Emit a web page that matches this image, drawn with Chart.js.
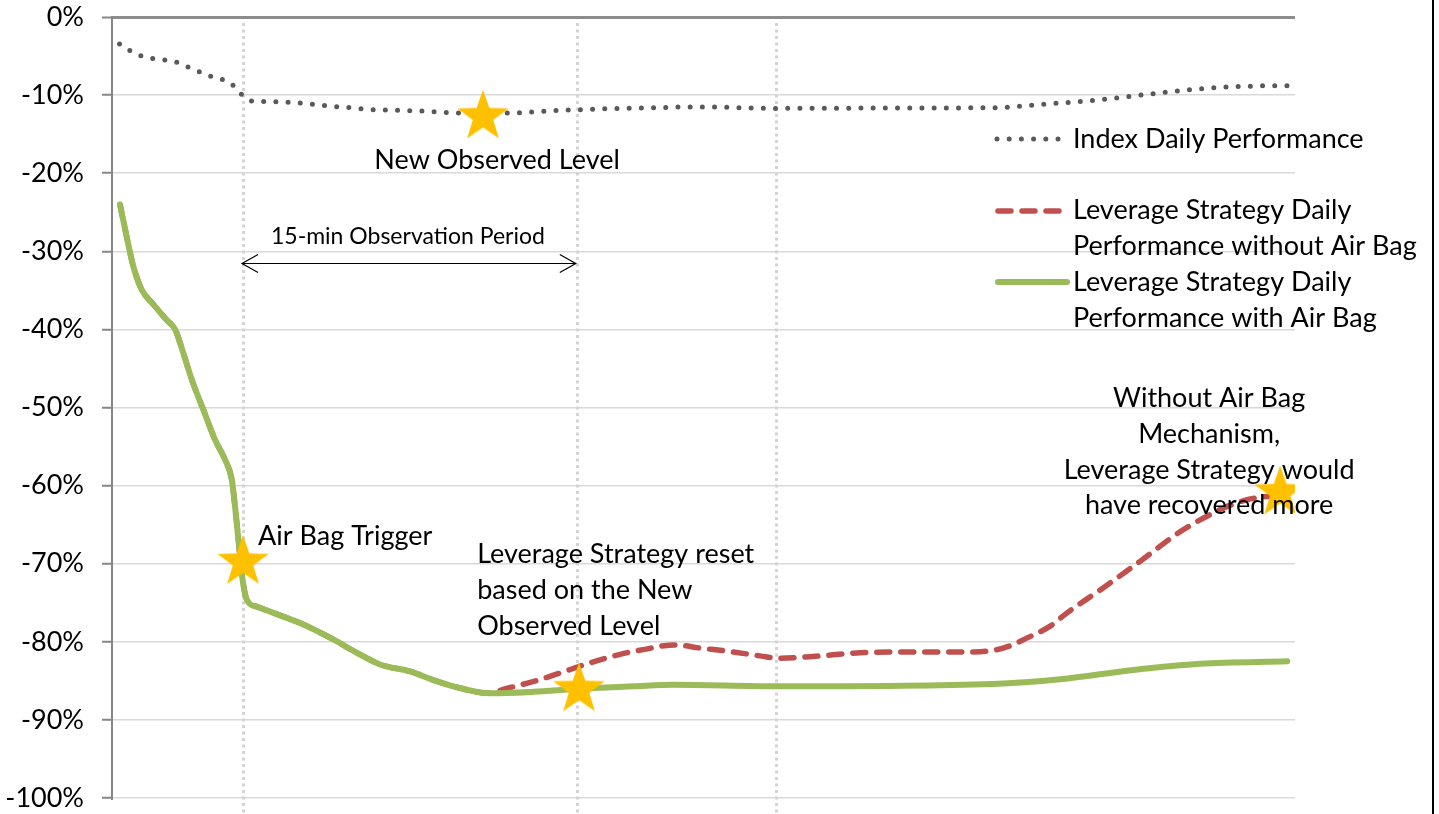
<!DOCTYPE html>
<html>
<head>
<meta charset="utf-8">
<title>Air Bag Mechanism</title>
<script src="https://cdn.jsdelivr.net/npm/chart.js@4.4.1/dist/chart.umd.min.js"></script>
<style>
  html, body { margin: 0; padding: 0; background: #fff; }
  #wrap { position: relative; width: 1439px; height: 814px; }
</style>
</head>
<body>
<div id="wrap"><canvas id="airbagChart" width="1439" height="814"></canvas></div>
<script>
// minutes since the start of the window
const indexT = [0.34, 0.81, 1.29, 1.86, 2.42, 2.94, 3.46, 3.98, 4.49, 5.01, 5.49, 5.87, 6.34, 6.88, 8.55, 9.65, 10.75, 11.84, 12.96, 14.07, 15.16, 15.73, 16.76, 17.95, 19.06, 20.18, 21.27, 22.39, 23.52, 24.64, 25.71, 26.80, 30.00, 35.61, 40.04, 41.79, 43.45, 45.10, 46.75, 48.41, 50.09, 51.75, 53.10];
const indexPerf = [-3.46, -4.31, -4.96, -5.34, -5.51, -5.81, -6.45, -7.04, -7.61, -8.03, -8.80, -9.95, -10.76, -10.81, -11.01, -11.36, -11.61, -11.87, -11.96, -12.05, -12.22, -12.29, -12.35, -12.29, -12.16, -11.96, -11.87, -11.74, -11.69, -11.61, -11.52, -11.52, -11.70, -11.65, -11.60, -11.23, -10.88, -10.46, -9.91, -9.40, -9.01, -8.83, -8.80];

const airbagT = [0.36, 0.66, 0.96, 1.34, 1.87, 2.47, 2.85, 3.22, 3.60, 4.13, 4.65, 5.11, 5.41, 5.56, 5.71, 5.86, 6.09, 6.54, 7.29, 8.50, 10.00, 11.06, 12.11, 13.47, 14.52, 15.42, 17.08, 19.04, 21.10, 23.56, 25.36, 30.00, 39.81, 42.84, 46.14, 49.16, 53.10];
const airbagPerf = [-24.0, -28.1, -31.9, -34.9, -36.8, -38.8, -40.0, -43.0, -46.4, -50.3, -54.1, -56.7, -59.2, -62.7, -66.9, -71.2, -74.6, -75.5, -76.3, -77.6, -79.7, -81.4, -82.9, -83.8, -84.9, -85.7, -86.6, -86.4, -86.0, -85.7, -85.5, -85.7, -85.4, -84.8, -83.6, -82.8, -82.5];

const noAirbagT = [0.36, 0.66, 0.96, 1.34, 1.87, 2.47, 2.85, 3.22, 3.60, 4.13, 4.65, 5.11, 5.41, 5.56, 5.71, 5.86, 6.09, 6.54, 7.29, 8.50, 10.00, 11.06, 12.11, 13.47, 14.52, 15.42, 17.08, 17.67, 19.02, 20.24, 21.15, 22.96, 23.99, 25.44, 26.57, 27.79, 29.28, 30.05, 31.54, 33.80, 35.29, 38.64, 39.81, 40.58, 41.35, 42.39, 43.15, 44.78, 46.45, 48.26, 49.16, 50.20, 51.29, 52.19, 53.10];
const noAirbagPerf = [-24.0, -28.1, -31.9, -34.9, -36.8, -38.8, -40.0, -43.0, -46.4, -50.3, -54.1, -56.7, -59.2, -62.7, -66.9, -71.2, -74.6, -75.5, -76.3, -77.6, -79.7, -81.4, -82.9, -83.8, -84.9, -85.7, -86.6, -86.1, -85.1, -84.0, -83.1, -81.6, -81.0, -80.4, -80.8, -81.2, -81.8, -82.1, -81.9, -81.4, -81.3, -81.3, -81.1, -80.5, -79.5, -78.0, -76.3, -73.1, -69.7, -65.9, -64.4, -62.9, -61.8, -61.4, -61.0];

// the stars
const starT = [5.92, 16.76, 21.10, 52.78];
const starPerf = [-69.8, -12.76, -86.1, -60.9];

// dotted vertical markers (trigger, end of observation, ...)
const markerT = [5.92, 21.0, 30.0];

const yTicks = [0, -10, -20, -30, -40, -50, -60, -70, -80, -90, -100];

const seriesNames = ['Index Daily Performance', 'Leverage Strategy Daily|Performance without Air Bag', 'Leverage Strategy Daily|Performance with Air Bag'];

const FONT = '"Lato", "Noto Sans", sans-serif';

function toPoints(xs, ys) {
  return xs.map((x, i) => ({ x: x, y: ys[i] }));
}

// étoile dorée en image pour pointStyle
function makeStar(r) {
  const c = document.createElement('canvas');
  const s = Math.ceil(r * 2 + 2);
  c.width = s; c.height = s;
  const g = c.getContext('2d');
  g.fillStyle = '#ffc000';
  g.beginPath();
  for (let i = 0; i < 10; i++) {
    const rad = i % 2 === 0 ? r : r * 0.4;
    const a = -Math.PI / 2 + i * Math.PI / 5;
    g.lineTo(s / 2 + rad * Math.cos(a), s / 2 + rad * Math.sin(a));
  }
  g.closePath();
  g.fill();
  return c;
}

// markers behind the lines
const markerPlugin = {
  id: 'markers',
  beforeDatasetsDraw(chart) {
    const ctx = chart.ctx;
    const xs = chart.scales.x;
    ctx.save();
    ctx.strokeStyle = '#d4d4d4';
    ctx.lineWidth = 3;
    ctx.setLineDash([3, 3.5]);
    markerT.forEach(t => {
      const px = Math.round(xs.getPixelForValue(t)) + 0.5;
      ctx.beginPath();
      ctx.moveTo(px, chart.chartArea.top + 6);
      ctx.lineTo(px, chart.height);
      ctx.stroke();
    });
    ctx.restore();
  }
};

function textAt(ctx, txt, x, y, align) {
  ctx.textAlign = align || 'left';
  ctx.fillText(txt, x, y);
}

// legend + annotations
const overlayPlugin = {
  id: 'overlay',
  afterDraw(chart) {
    const ctx = chart.ctx;
    const xs = chart.scales.x;
    const ys = chart.scales.y;
    const X = v => xs.getPixelForValue(v);
    const Y = v => ys.getPixelForValue(v);
    ctx.save();
    ctx.fillStyle = '#000';
    ctx.textBaseline = 'alphabetic';

    // legend
    const lx0 = 995, lx1 = 1062, tx = 1073;
    const ds = chart.data.datasets;
    const rows = [
      { d: ds[3], y: 139, lines: seriesNames[0].split('|'), base: 148 },
      { d: ds[2], y: 211, lines: seriesNames[1].split('|'), base: 219 },
      { d: ds[1], y: 282, lines: seriesNames[2].split('|'), base: 291 }
    ];
    rows.forEach((r, i) => {
      ctx.save();
      ctx.strokeStyle = r.d.borderColor;
      ctx.lineWidth = r.d.borderWidth;
      ctx.lineCap = r.d.borderCapStyle || 'butt';
      ctx.setLineDash(r.d.borderDash || []);
      ctx.beginPath();
      ctx.moveTo(lx0 + (i === 0 ? 2 : 3), r.y);
      ctx.lineTo(i === 2 ? 1067 : lx1, r.y);
      ctx.stroke();
      ctx.restore();
      ctx.font = '27px ' + FONT;
      r.lines.forEach((l, k) => textAt(ctx, l, tx, r.base + k * 36));
    });

    ctx.font = '27px ' + FONT;
    textAt(ctx, 'New Observed Level', X(17.4), 169, 'center');
    textAt(ctx, 'Air Bag Trigger', X(6.6), 545);
    ['Leverage Strategy reset', 'based on the New', 'Observed Level'].forEach((l, k) => textAt(ctx, l, X(16.5), 563 + k * 36));
    ['Without Air Bag', 'Mechanism,', 'Leverage Strategy would', 'have recovered more'].forEach((l, k) => textAt(ctx, l, X(49.57), 407 + k * 35.8, 'center'));

    ctx.font = '23px ' + FONT;
    textAt(ctx, '15-min Observation Period', X(13.37), 244, 'center');

    // double arrow
    const ay = Math.round(Y(-31.46)) + 0.5;
    const a0 = X(markerT[0]) - 1, a1 = X(markerT[1]) - 1;
    ctx.strokeStyle = '#000';
    ctx.lineWidth = 1.2;
    ctx.beginPath();
    ctx.moveTo(a0, ay); ctx.lineTo(a1, ay);
    ctx.moveTo(a0 + 16, ay - 9); ctx.lineTo(a0, ay); ctx.lineTo(a0 + 16, ay + 9);
    ctx.moveTo(a1 - 16, ay - 9); ctx.lineTo(a1, ay); ctx.lineTo(a1 - 16, ay + 9);
    ctx.stroke();

    // frame edge on the right
    ctx.strokeStyle = '#000';
    ctx.lineWidth = 2;
    ctx.beginPath();
    ctx.moveTo(1433, 0); ctx.lineTo(1433, chart.height);
    ctx.stroke();
    ctx.restore();
  }
};

const ctx = document.getElementById('airbagChart').getContext('2d');

new Chart(ctx, {
  type: 'line',
  data: {
    datasets: [
      {
        label: 'stars',
        data: toPoints(starT, starPerf),
        showLine: false,
        pointStyle: makeStar(27),
        pointRadius: 27
      },
      {
        label: seriesNames[2],
        data: toPoints(airbagT, airbagPerf),
        borderColor: '#9bbb59',
        borderWidth: 6,
        borderCapStyle: 'round',
        borderJoinStyle: 'round',
        cubicInterpolationMode: 'monotone',
        pointRadius: 0
      },
      {
        label: seriesNames[1],
        data: toPoints(noAirbagT, noAirbagPerf),
        borderColor: '#c0504d',
        borderWidth: 5.5,
        borderDash: [13, 11],
        borderCapStyle: 'round',
        cubicInterpolationMode: 'monotone',
        pointRadius: 0
      },
      {
        label: seriesNames[0],
        data: toPoints(indexT, indexPerf),
        borderColor: '#595959',
        borderWidth: 5,
        borderDash: [0, 12.2],
        borderCapStyle: 'round',
        cubicInterpolationMode: 'monotone',
        pointRadius: 0
      }
    ]
  },
  options: {
    responsive: false,
    animation: false,
    events: [],
    layout: { autoPadding: false, padding: { left: 0, top: 17, right: 144, bottom: 16 } },
    plugins: {
      legend: { display: false },
      tooltip: { enabled: false }
    },
    scales: {
      x: {
        type: 'linear',
        min: 0,
        max: 53.45,
        display: false
      },
      y: {
        min: -100,
        max: 0,
        afterFit: scale => {
          scale.width = 112;
          scale.paddingTop = 0;
          scale.paddingBottom = 0;
        },
        afterBuildTicks: scale => { scale.ticks = yTicks.map(v => ({ value: v })); },
        ticks: {
          padding: 18,
          color: '#000',
          font: { family: FONT, size: 27 },
          callback: v => v + '%'
        },
        grid: {
          color: c => c.tick && c.tick.value === 0 ? '#8c8c8c' : '#d9d9d9',
          lineWidth: c => c.tick && c.tick.value === 0 ? 3 : 1.5,
          tickLength: 10,
          tickColor: '#868686',
          tickWidth: 2
        },
        border: { display: true, color: '#868686', width: 2 }
      }
    }
  },
  plugins: [markerPlugin, overlayPlugin]
});
</script>
</body>
</html>
